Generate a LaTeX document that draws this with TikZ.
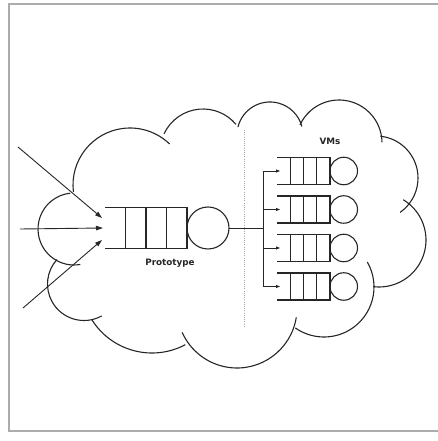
\documentclass[tikz,border=0pt]{standalone}
\usepackage{fontspec}
\setsansfont{DejaVu Sans}
\usetikzlibrary{positioning, arrows.meta, calc}

\begin{document}
\begin{tikzpicture}[
  x=1pt, y=1pt,
  font=\sffamily,
  cloudline/.style={draw=black!85, line width=1.1pt},
  queue/.style={minimum height=41, minimum width=82, inner sep=0pt, outer sep=0pt},
  vmqueue/.style={minimum height=27, minimum width=53, inner sep=0pt, outer sep=0pt},
  server/.style={circle, draw=black!85, line width=1.1pt, inner sep=0pt, outer sep=0pt},
  inflow/.style={-{Triangle[length=7pt, width=4.5pt]}, draw=black!85, line width=0.9pt},
  fan/.style={-{Triangle[length=4pt, width=3pt]}, draw=black!85, line width=0.8pt},
  lbl/.style={font=\sffamily\bfseries\fontsize{8.8}{10}\selectfont, text=black!85}
]
\useasboundingbox (0,0) rectangle (437,441);

% frame
\draw[gray!65, line width=1.1pt] (439,437) -- (9,437) -- (9,10) -- (439,10);

% --- the cloud, one arc per lobe (centre x/y, radius, start, end) ---
\foreach \cx/\cy/\r/\s/\e in {
    130/256/57/187/46, 203/289/43/155/40, 270/306/33/166/15,
    339/298/43/155/1, 376/263/42/84/-55, 379/201/47/59/-97,
    324/154/50/30/-125, 237/133/60/-9/-156, 152/159/71/-62/-148,
    84/157/36.5/-61/-222, 74/212/36/-80/-264}
  \draw[cloudline] (\cx,\cy) ++(\s:\r) arc[start angle=\s, end angle=\e, radius=\r];

% split between prototype and VMs
\draw[gray!70, line width=0.5pt, dash pattern=on 1pt off 1.2pt] (244,311) -- (244,114);

% --- prototype queue + server ---
\node[queue] (proto) at (146,213) {};
\node[server, minimum size=42, right=0pt of proto] (protosrv) {};
\node[lbl] (protolbl) at (170,178) {Prototype};

% --- VM queues, stacked at right ---
\node[vmqueue] (vm1) at (303.5,270) {};
\node[vmqueue] (vm2) at (303.5,231.5) {};
\node[vmqueue] (vm3) at (303.5,193) {};
\node[vmqueue] (vm4) at (303.5,154.5) {};
\foreach \i in {1,...,4}
  \node[server, minimum size=27.5, right=0pt of vm\i] (vmsrv\i) {};
\node[lbl] (vmlbl) at (330,300) {VMs};

% queue outlines: open at left, three slots
\foreach \q in {proto,vm1,vm2,vm3,vm4} {
  \draw[cloudline] (\q.north west) -- (\q.north east) -- (\q.south east) -- (\q.south west);
  \foreach \f in {0.25,0.5,0.75}
    \draw[cloudline] ($(\q.north west)!\f!(\q.north east)$) -- ($(\q.south west)!\f!(\q.south east)$);
}

% incoming requests
\coordinate (src1) at (18,294);
\coordinate (src2) at (20,212);
\coordinate (src3) at (23,133);
\draw[inflow] (src1) -- ($(proto.west)+(-3,10)$);
\draw[inflow] (src2) -- ($(proto.west)+(-2,0)$);
\draw[inflow] (src3) -- ($(proto.west)+(-3,-12)$);

% fan-out to the VMs
\coordinate (fork) at (263,213);
\draw[cloudline, line width=0.8pt] (protosrv.east) -- (fork);
\foreach \i in {1,...,4}
  \draw[fan] (fork) |- ($(vm\i.west)+(3,0)$);

\end{tikzpicture}
\end{document}
